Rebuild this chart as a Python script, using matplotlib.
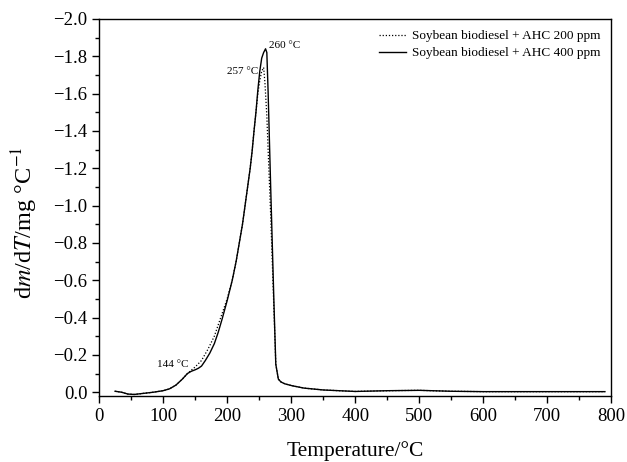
import matplotlib
matplotlib.use('Agg')
import matplotlib.pyplot as plt
from matplotlib.ticker import MultipleLocator

plt.rcParams['font.family'] = ['Liberation Serif', 'DejaVu Serif']
plt.rcParams['mathtext.fontset'] = 'stix'

# AHC 400 ppm (solid)
t_400 = [25, 35, 45, 55, 70, 85, 100, 110, 120, 130, 138, 144, 150, 155, 160, 166, 173, 180,
         186, 192, 200, 208, 214, 219, 224, 228, 232, 236, 239, 242, 245, 248, 251, 254, 257,
         260, 262, 264, 268, 273, 276, 280, 284, 290, 301, 320, 350, 400, 450, 500, 550, 600,
         650, 700, 750, 790]
v_400 = [-0.005, 0.0, 0.01, 0.012, 0.006, 0.0, -0.008, -0.018, -0.038, -0.07, -0.10, -0.112,
         -0.12, -0.128, -0.14, -0.17, -0.21, -0.26, -0.32, -0.39, -0.49, -0.6, -0.7, -0.8,
         -0.9, -1.0, -1.1, -1.2, -1.29, -1.4, -1.5, -1.62, -1.72, -1.79, -1.82, -1.84, -1.82,
         -1.61, -1.1, -0.49, -0.15, -0.07, -0.055, -0.045, -0.035, -0.022, -0.012, -0.004,
         -0.008, -0.01, -0.005, -0.003, -0.003, -0.003, -0.003, -0.003]

# AHC 200 ppm (dotted)
t_200 = [25, 35, 45, 55, 70, 85, 100, 110, 120, 130, 138, 144, 150, 160, 170, 180, 190,
         200, 208, 214, 219, 224, 228, 232, 236, 239, 242, 245, 248, 251, 254, 257, 259, 262,
         264, 268, 273, 276, 280, 284, 290, 301, 320, 350, 400, 450, 500, 550, 600, 650, 700,
         750, 790]
v_200 = [-0.005, 0.0, 0.01, 0.012, 0.006, 0.0, -0.008, -0.018, -0.038, -0.07, -0.10, -0.118,
         -0.135, -0.17, -0.23, -0.3, -0.4, -0.5, -0.6, -0.7, -0.8, -0.9, -1.0, -1.1, -1.2,
         -1.29, -1.4, -1.5, -1.6, -1.67, -1.72, -1.74, -1.66, -1.48, -1.3, -0.95, -0.45,
         -0.15, -0.07, -0.055, -0.045, -0.035, -0.022, -0.012, -0.004, -0.008, -0.01, -0.005,
         -0.003, -0.003, -0.003, -0.003, -0.003]

fig = plt.figure(figsize=(6.27, 4.62), dpi=100)
ax = fig.add_axes([0.158, 0.143, 0.817, 0.816])

ax.plot(t_200, v_200, color='black', linestyle=(0, (1, 1.5)), linewidth=0.9,
        label='Soybean biodiesel + AHC 200 ppm')
ax.plot(t_400, v_400, color='black', linestyle='-', linewidth=1.0,
        label='Soybean biodiesel + AHC 400 ppm')

ax.set_xlim(0, 800)
ax.set_ylim(0.02, -2.0)
ax.xaxis.set_major_locator(MultipleLocator(100))
ax.xaxis.set_minor_locator(MultipleLocator(50))
ax.yaxis.set_major_locator(MultipleLocator(0.2))
ax.yaxis.set_minor_locator(MultipleLocator(0.1))
ax.yaxis.set_major_formatter(plt.FuncFormatter(lambda v, p: f'{v:.1f}'.replace('-', '\u2212')))
ax.tick_params(which='both', direction='out', top=False, right=False, labelsize=13.5)
ax.tick_params(which='major', length=5, width=1)
ax.tick_params(which='minor', length=3, width=1)
for s in ax.spines.values():
    s.set_linewidth(1.0)

ax.set_xlabel('Temperature/\u00b0C', fontsize=15.5, labelpad=12)
ax.set_ylabel('d$m$/d$T$/mg \u00b0C$^{\u22121}$', fontsize=17.5)
ax.yaxis.set_label_coords(-0.116, 0.46)

ax.text(265, -1.86, '260 \u00b0C', fontsize=8, ha='left', va='center')
ax.text(249, -1.72, '257 \u00b0C', fontsize=8, ha='right', va='center')
ax.text(140, -0.15, '144 \u00b0C', fontsize=8, ha='right', va='center')

ax.legend(loc='upper right', frameon=False, fontsize=9.5, handlelength=2.1,
          handletextpad=0.4, labelspacing=0.35, borderaxespad=0.45)

fig.savefig('out.png', dpi=100)
